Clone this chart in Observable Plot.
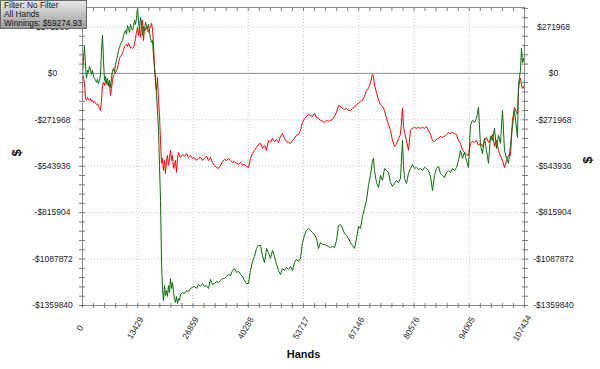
<!DOCTYPE html>
<html><head><meta charset="utf-8">
<script src="https://cdn.jsdelivr.net/npm/d3@7"></script>
<script src="https://cdn.jsdelivr.net/npm/@observablehq/plot@0.6"></script>
<style>
html,body{margin:0;padding:0;background:#fff;}
#wrap{position:relative;width:600px;height:369px;font-family:"Liberation Sans",Arial,sans-serif;}
#legend{position:absolute;left:0;top:0;width:87px;height:29px;box-sizing:border-box;border:1px solid #6a6a6a;
background:linear-gradient(#e8e8e8,#9c9c9c);font:8.3px "Liberation Sans",Arial,sans-serif;line-height:9px;color:#111;padding:0 0 0 3px;white-space:nowrap;}
</style></head><body>
<div id="wrap"><div id="chart"></div><div id="legend">Filter: No Filter<br>All Hands<br>Winnings: $59274.93</div></div>
<script>
// Hands played (x)
const hands = [
0,243,486,729,972,1215,1458,1701,1944,2188,
2431,2674,2917,3160,3403,3646,3889,4132,4375,4618,
4861,5104,5347,5590,5833,6077,6320,6563,6806,7049,
7292,7535,7778,8021,8264,8507,8750,8993,9236,9479,
9722,9965,10209,10452,10695,10938,11181,11424,11667,11910,
12153,12396,12639,12882,13125,13368,13611,13854,14097,14341,
14584,14827,15070,15313,15556,15799,16042,16285,16528,16771,
17014,17257,17500,17743,17986,18230,18473,18716,18959,19202,
19445,19688,19931,20174,20417,20660,20903,21146,21389,21632,
21875,22118,22362,22605,22848,23091,23334,23577,23820,
24306,24792,25278,25764,26250,26737,27223,27709,28195,28681,
29167,29653,30139,30626,31112,31598,32084,32570,33056,33542,
34028,34515,35001,35487,35973,36459,36945,37431,37917,38403,
38890,39376,39862,40348,40834,41320,41806,42292,42779,43265,
43751,44237,44723,45209,45695,46181,46668,47154,47640,48126,
48612,49098,49584,50070,50556,51043,51529,52015,52501,52987,
53473,53959,54445,54932,55418,55904,56390,56876,57362,57848,
58334,58821,59307,59793,60279,60765,61251,61737,62223,62709,
63196,63682,64168,64654,65140,65626,66112,66598,67085,67571,
68057,68543,69029,69515,70001,70487,
70730,
70974,71460,71946,72432,72918,73404,73890,74376,74862,75349,
75835,76321,76807,77293,77779,
78022,
78265,78751,79238,79724,80210,80696,81182,81668,82154,82640,
83127,83613,84099,84585,85071,85557,86043,86529,87015,87502,
87988,88474,88960,89446,89932,90418,90904,91391,91877,92363,
92849,93335,93821,94307,94793,95280,95766,96252,96738,97224,
97710,98196,98682,99168,99655,100141,100627,101113,101599,102085,
102571,103057,103544,104030,104516,105002,105488,
105731,105974,106217,106460,106703,106947,107190,107434
];
// Green series, winnings in thousands of dollars
const greenK = [
0,76,164,41,-29,18,6,41,29,-6,
18,-18,-29,-41,-53,-35,-59,-41,-12,135,
223,76,-41,-18,-53,-29,-70,-41,-82,-29,
18,29,6,53,76,105,135,152,170,182,
193,217,240,252,229,281,264,240,287,264,
252,275,311,287,322,387,311,252,328,299,
223,275,252,299,281,264,287,240,205,182,
193,105,29,-23,-129,-217,-334,-539,-744,-1096,
-1272,-1330,-1243,-1301,-1272,-1307,-1243,-1284,-1202,-1260,
-1225,-1284,-1319,-1342,-1307,-1348,-1319,-1330,-1295,
-1284,-1289,-1272,-1278,-1260,-1254,-1248,-1260,-1237,-1248,
-1231,-1248,-1243,-1260,-1207,-1237,-1231,-1219,-1225,-1213,
-1202,-1202,-1190,-1178,-1184,-1155,-1143,-1166,-1160,-1178,
-1190,-1213,-1231,-1231,-1155,-1102,-1073,-1026,-1008,-1008,
-1067,-1108,-1026,-1049,-1084,-1037,-1073,-1119,-1155,-1178,
-1143,-1155,-1137,-1149,-1131,-1155,-1108,-1090,-1102,-1084,
-991,-949,-920,-908,-920,-932,-944,-967,-1026,-991,
-1002,-1002,-1008,-1014,-1020,-1014,-1020,-979,-891,-885,
-908,-938,-949,-967,-991,-1008,-1026,-967,-897,-908,
-838,-791,-744,-656,-598,-510,
-498,
-569,-639,-668,-598,-627,-557,-569,-580,-639,-662,
-645,-627,-639,-615,-393,
-539,
-615,-645,-586,-557,-533,-557,-551,-563,-557,-569,
-551,-557,-569,-604,-686,-598,-557,-545,-586,-598,
-610,-580,-569,-580,-557,-569,-551,-510,-451,-498,
-463,-510,-551,-305,-275,-287,-264,-199,-422,-469,
-381,-451,-527,-369,-393,-322,-440,-363,-410,-217,
-451,-498,-527,-422,-305,-217,-322,
-375,-70,-23,18,147,64,88,59.27493
];
// Red series, in thousands of dollars
const redK = [
0,-29,-53,-147,-158,-141,-152,-158,-147,-164,
-158,-170,-164,-176,-182,-176,-193,-205,-217,-158,
-70,-53,-70,-41,-64,-53,-76,-64,-129,-88,
-41,-12,-6,6,18,29,64,88,100,105,
123,135,158,164,170,158,176,164,147,152,
147,152,170,205,240,270,223,264,211,281,
311,193,264,252,270,252,240,264,270,293,
264,164,47,-53,-100,-23,-158,-246,-393,-527,
-498,-569,-510,-586,-510,-481,-539,-498,-451,-510,
-481,-557,-539,-510,-580,-498,-463,-481,-492,
-475,-486,-469,-492,-481,-498,-492,-510,-498,-492,
-510,-498,-486,-510,-492,-522,-539,-551,-557,-539,
-516,-504,-510,-498,-510,-522,-516,-527,-533,-522,
-539,-533,-545,-551,-498,-469,-451,-434,-416,-410,
-440,-422,-451,-393,-404,-381,-399,-387,-404,-369,
-352,-381,-399,-404,-410,-393,-381,-363,-358,-334,
-287,-264,-252,-240,-246,-252,-234,-258,-264,-275,
-281,-287,-275,-281,-275,-270,-252,-229,-188,-193,
-205,-211,-205,-217,-217,-205,-199,-182,-176,-164,
-158,-135,-100,-88,-53,-6,
-18,
-70,-111,-158,-182,-193,-217,-264,-299,-334,-393,
-428,-416,-381,-358,-205,
-305,
-346,-393,-451,-334,-322,-317,-322,-317,-322,-317,
-322,-311,-334,-358,-393,-399,-387,-381,-369,-375,
-369,-358,-346,-352,-346,-352,-358,-393,-410,-451,
-463,-475,-481,-410,-399,-404,-393,-422,-410,-428,
-393,-375,-404,-387,-358,-428,-393,-451,-486,-510,
-551,-510,-481,-481,-275,-199,-229,
-240,-100,-41,-29,-70,-88,-76,-94
];
const xTickValues = [0,13429.25,26858.5,40287.75,53717,67146.25,80575.5,94004.75,107434];
const xTickLabels = ["0","13429","26859","40288","53717","67146","80576","94005","107434"];
const yTickValues = [-1359840,-1087872,-815904,-543936,-271968,0,271968];
const yTickLabels = ["-$1359840","-$1087872","-$815904","-$543936","-$271968","$0","$271968"];

const UNIT = 1000;
if (hands.length !== greenK.length || hands.length !== redK.length) console.error("length mismatch", hands.length, greenK.length, redK.length);
const rows = hands.map((h, i) => ({hands: h, green: greenK[i] * UNIT, red: redK[i] * UNIT}));

const xMax = 107434;
const xMinor = d3.range(41).map(i => i * xMax / 40);
const yMinor = d3.range(-25, 8).map(i => i * 271968 / 5);
const font = "Liberation Sans, Arial, sans-serif";
const tickStyle = {fill: "none", stroke: "#7a7a7a", label: null};
const labelStyle = {fill: "#222", fontSize: 8.5, fontFamily: font};

const chart = Plot.plot({
  width: 600, height: 369,
  marginLeft: 82, marginRight: 76, marginTop: 7, marginBottom: 64,
  style: {fontFamily: font, background: "#fff", overflow: "visible"},
  x: {domain: [0, xMax]},
  y: {domain: [-1359840, 386000]},
  marks: [
    Plot.gridX(xTickValues.slice(1, -1), {stroke: "#c4c4c4", strokeOpacity: 1, strokeDasharray: "1,2"}),
    Plot.gridY(yTickValues.filter(v => v !== 0 && v !== -1359840), {stroke: "#c4c4c4", strokeOpacity: 1, strokeDasharray: "1,2"}),
    Plot.ruleY([0], {stroke: "#8c8c8c"}),
    Plot.line(rows, {x: "hands", y: "red", stroke: "#ff0000", strokeWidth: 1}),
    Plot.line(rows, {x: "hands", y: "green", stroke: "#0a6a0a", strokeWidth: 1}),
    Plot.frame({stroke: "#8a8a8a"}),
    Plot.axisX(xMinor, {anchor: "bottom", tickSize: 5, dy: -2, ...tickStyle}),
    Plot.axisX(xMinor, {anchor: "top", tickSize: 3, dy: 3, ...tickStyle}),
    Plot.axisY(yMinor, {anchor: "left", tickSize: 6, dx: 3, ...tickStyle}),
    Plot.axisY(yMinor, {anchor: "right", tickSize: 6, dx: -3, ...tickStyle}),
    Plot.text(xTickValues, {x: d => d, text: (d, i) => xTickLabels[i], frameAnchor: "bottom", dy: 24, rotate: -60, textAnchor: "middle", ...labelStyle}),
    Plot.text(yTickValues, {y: d => d, text: (d, i) => yTickLabels[i], frameAnchor: "left", dx: -30, textAnchor: "middle", ...labelStyle}),
    Plot.text(yTickValues, {y: d => d, text: (d, i) => yTickLabels[i], frameAnchor: "right", dx: 29, textAnchor: "middle", ...labelStyle}),
    Plot.text(["Hands"], {frameAnchor: "bottom", dy: 52, fontWeight: "bold", fontSize: 11, fill: "#111", fontFamily: font}),
    Plot.text(["$"], {frameAnchor: "left", dx: -66, rotate: -90, fontWeight: "bold", fontSize: 13, fill: "#111", fontFamily: font}),
    Plot.text(["$"], {frameAnchor: "right", dx: 63, rotate: -90, fontWeight: "bold", fontSize: 13, fill: "#111", fontFamily: font})
  ]
});
document.getElementById("chart").appendChild(chart);
</script>
</body></html>
